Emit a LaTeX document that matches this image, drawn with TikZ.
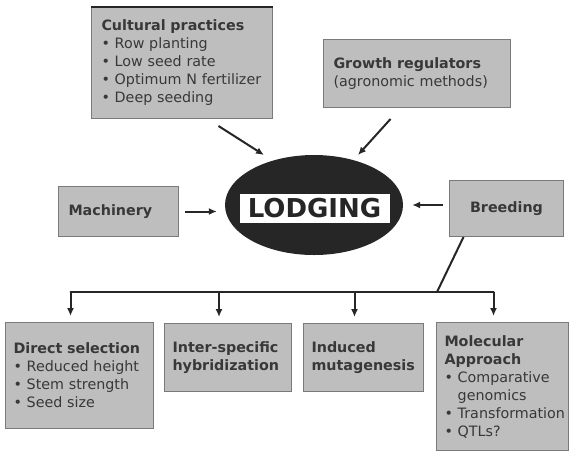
\documentclass[tikz,border=0pt]{standalone}
\usepackage{fontspec}
\setmainfont{DejaVu Sans}
\usetikzlibrary{arrows,arrows.meta,shapes.geometric}
\definecolor{boxgray}{HTML}{BEBEBE}
\definecolor{edgegray}{HTML}{7A7A7A}
\definecolor{ink}{HTML}{262626}
\definecolor{txt}{HTML}{383838}
\tikzstyle{factor} = [rectangle, anchor=north west, inner sep=0pt, draw=edgegray, line width=1pt, fill=boxgray, text=txt, align=left, font=\fontsize{14.3}{18}\selectfont]
\tikzstyle{link} = [-{Latex[length=8pt,width=7pt]}, line width=2pt, draw=ink]

\begin{document}
\begin{tikzpicture}[x=1pt,y=-1pt]
\useasboundingbox (0,0) rectangle (569,453);

% factors around the centre
\node (cult) [factor, minimum width=181pt, minimum height=111pt, text width=161pt] at (91,7) {\textbf{Cultural practices}\\
  \textbullet\ Row planting\\
  \textbullet\ Low seed rate\\
  \textbullet\ Optimum N fertilizer\\
  \textbullet\ Deep seeding};
\draw[line width=2.5pt, ink] (cult.north west) -- (cult.north east);
\node (grow) [factor, minimum width=187pt, minimum height=68pt, text width=167pt] at (323,39) {\textbf{Growth regulators}\\(agronomic methods)};
\node (mach) [factor, minimum width=120pt, minimum height=50pt, text width=100pt] at (58,186) {\textbf{Machinery}};
\node (breed) [factor, align=center, minimum width=114pt, minimum height=56pt, text width=94pt] at (449,180) {\textbf{Breeding}};

% centre
\node (lodg) [ellipse, fill=ink, minimum width=178pt, minimum height=100pt] at (314,205) {};
\node (lbl) [rectangle, fill=white, draw=ink, line width=1pt, minimum width=151pt, minimum height=30pt, inner sep=0pt, text=ink, font=\fontsize{26}{30}\selectfont\bfseries] at (314.5,208) {LODGING};

% breeding methods
\node (sel) [factor, minimum width=148pt, minimum height=106pt, text width=132pt] at (5,322) {\textbf{Direct selection}\\
  \textbullet\ Reduced height\\
  \textbullet\ Stem strength\\
  \textbullet\ Seed size};
\node (hyb) [factor, minimum width=127pt, minimum height=68pt, text width=111pt] at (164,323) {\textbf{Inter-specific}\\\textbf{hybridization}};
\node (mut) [factor, minimum width=120pt, minimum height=68pt, text width=104pt] at (303,323) {\textbf{Induced}\\\textbf{mutagenesis}};
\node (mol) [factor, minimum width=132pt, minimum height=128pt, text width=116pt] at (436,322) {\textbf{Molecular}\\\textbf{Approach}\\
  \textbullet\ Comparative\\
  \phantom{\textbullet\ }genomics\\
  \mbox{\textbullet\ Transformation}\\
  \textbullet\ QTLs?};

% arrows into LODGING
\draw[link] ([xshift=36.5pt,yshift=-7pt]cult.south) -- ([xshift=-50pt,yshift=50pt]lodg.center);
\draw[link] ([xshift=-26.5pt,yshift=-11pt]grow.south) -- ([xshift=44pt,yshift=50pt]lodg.center);
\draw[link] ([xshift=6pt]mach.east) -- ([xshift=-8pt]lodg.west |- mach.east);
\draw[link] ([xshift=-6pt]breed.west |- lodg.east) -- ([xshift=9pt]lodg.east);

% breeding tree
\coordinate (jn) at (437,292);
\draw[line width=2pt, ink] ([xshift=-43pt]breed.south) -- (jn);
\foreach \b in {sel,hyb,mut,mol}
  \coordinate (\b-t) at ([xshift=-9pt,yshift=6pt]\b.north);
\draw[line width=2pt, ink, line cap=round] (sel-t |- jn) -- (mol-t |- jn);
\foreach \b in {sel,hyb,mut,mol}
  \draw[link] (\b-t |- jn) -- (\b-t);
\end{tikzpicture}
\end{document}
